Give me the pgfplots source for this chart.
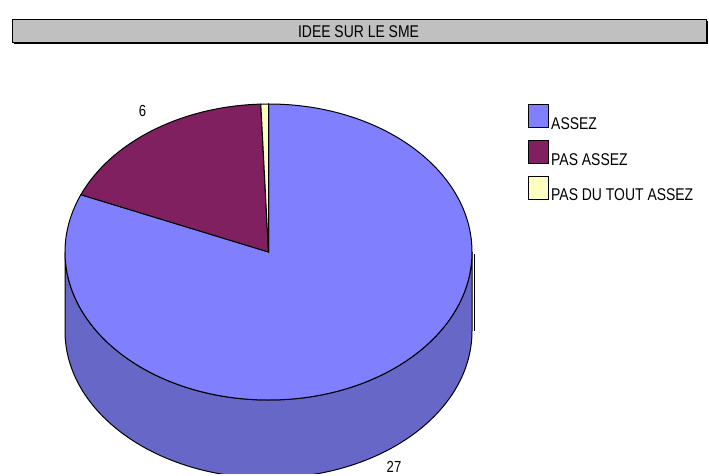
\documentclass[border=0pt]{standalone}
\usepackage{pgfplots}
\pgfplotsset{compat=1.18}
\usepackage{pgfplotstable}
\usepackage{fontspec}
\setmainfont{Liberation Sans}
\definecolor{pieblue}{HTML}{8080FF}
\definecolor{piebluedark}{HTML}{6767C8}
\definecolor{piepurple}{HTML}{802060}
\definecolor{pieyellow}{HTML}{FFFFC0}
\definecolor{titlegray}{HTML}{C0C0C0}
\newcommand\narrow[1]{\scalebox{0.82}[1]{#1}}
\pgfplotstableread{
label value
ASSEZ 27
PASASSEZ 6
PASDUTOUT 0.2
}\piedata
\begin{document}
\begin{tikzpicture}
\pgfplotstablegetelem{0}{value}\of\piedata \let\va\pgfplotsretval
\pgfplotstablegetelem{1}{value}\of\piedata \let\vb\pgfplotsretval
\pgfplotstablegetelem{2}{value}\of\piedata \let\vc\pgfplotsretval
\pgfmathsetmacro\T{\va+\vb+\vc}
\pgfmathsetmacro\aA{90-360*\va/\T}
\pgfmathsetmacro\aB{\aA-360*\vb/\T}
\pgfmathsetmacro\aC{\aB-360*\vc/\T}
\def\cx{268.5}\def\cy{252}\def\rx{203.5}\def\ry{148}
\def\cyb{331}\def\ryb{147}
\begin{axis}[
  scale only axis, width=709pt, height=473pt,
  xmin=0, xmax=709, ymin=0, ymax=473, y dir=reverse,
  hide axis, clip=false,
  legend style={at={(axis cs:528,104)}, anchor=north west, draw=none, fill=none,
    font=\fontsize{17}{19}\selectfont, inner sep=0pt, row sep=7pt,
    legend cell align=left,
    /tikz/every even column/.style={column sep=6pt}},
]
\path (rel axis cs:0,0) rectangle (rel axis cs:1,1);
% title box
\fill[black] (axis cs:13.5,21.5) rectangle (axis cs:707.5,44.5);
\draw[fill=titlegray, line width=1pt] (axis cs:12,20) rectangle (axis cs:706,43);
\node[font=\fontsize{17}{19}\selectfont] at (axis cs:358.5,31.5) {\narrow{IDEE SUR LE SME}};
% side of the pie
\begin{scope}
\clip (rel axis cs:0,0) rectangle (rel axis cs:1,1);
\filldraw[fill=piebluedark, draw=black, line width=1pt]
  (axis cs:\cx-\rx,\cy) arc[start angle=180, end angle=360, x radius=\rx pt, y radius=\ry pt]
  -- (axis cs:\cx+\rx,\cyb) arc[start angle=0, end angle=-180, x radius=\rx pt, y radius=\ryb pt]
  -- cycle;
\end{scope}
\draw[line width=0.8pt] (axis cs:474.5,254) -- (axis cs:474.5,331);
% top wedges
\filldraw[fill=pieblue, draw=black, line width=1pt]
  (axis cs:\cx,\cy) -- ([shift={(90:\rx pt and \ry pt)}]axis cs:\cx,\cy)
  arc[start angle=90, end angle=\aA, x radius=\rx pt, y radius=\ry pt] -- cycle;
\filldraw[fill=piepurple, draw=black, line width=1pt]
  (axis cs:\cx,\cy) -- ([shift={(\aA:\rx pt and \ry pt)}]axis cs:\cx,\cy)
  arc[start angle=\aA, end angle=\aB, x radius=\rx pt, y radius=\ry pt] -- cycle;
\filldraw[fill=pieyellow, draw=black, line width=1pt]
  (axis cs:\cx,\cy) -- ([shift={(\aB:\rx pt and \ry pt)}]axis cs:\cx,\cy)
  arc[start angle=\aB, end angle=\aC, x radius=\rx pt, y radius=\ry pt] -- cycle;
% data labels
\node[font=\fontsize{16}{18}\selectfont] at (axis cs:142.5,110.5) {\narrow{6}};
\node[font=\fontsize{16}{18}\selectfont] at (axis cs:394,466.5) {\narrow{27}};
% legend
\addlegendimage{legend image code/.code={\draw[fill=pieblue,draw=black,line width=1pt] (0pt,-3.5pt) rectangle (20pt,19.5pt);}}
\addlegendentry{\narrow{ASSEZ}}
\addlegendimage{legend image code/.code={\draw[fill=piepurple,draw=black,line width=1pt] (0pt,-3.5pt) rectangle (20pt,19.5pt);}}
\addlegendentry{\narrow{PAS ASSEZ}}
\addlegendimage{legend image code/.code={\draw[fill=pieyellow,draw=black,line width=1pt] (0pt,-3.5pt) rectangle (20pt,19.5pt);}}
\addlegendentry{\narrow{PAS DU TOUT ASSEZ}}
\end{axis}
\end{tikzpicture}
\end{document}
